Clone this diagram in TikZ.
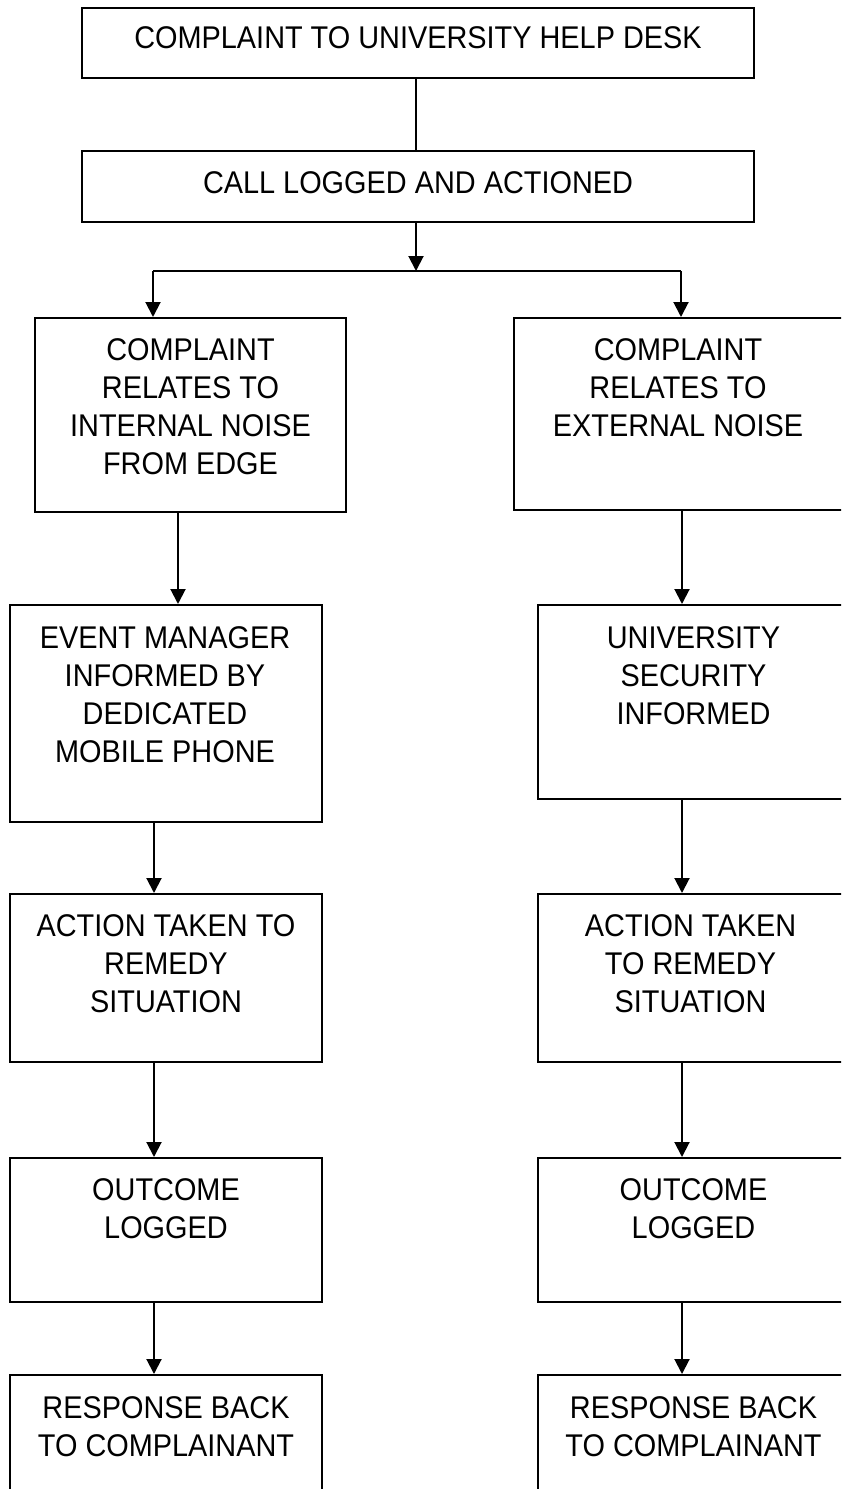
\documentclass[tikz,border=0pt]{standalone}
\usepackage{fontspec}
\setmainfont[FakeStretch=0.92]{Liberation Sans}
\usetikzlibrary{arrows.meta,positioning}
\begin{document}
\begin{tikzpicture}[x=1bp,y=-1bp,
  box/.style={draw=black,line width=2bp,rectangle,inner sep=0pt},
  txt/.style={inner sep=0pt,align=center,font=\fontsize{31.5}{38.2}\selectfont},
  link/.style={draw=black,line width=2bp},
  arr/.style={link,-{Triangle[length=15bp,width=15bp]}}]
\useasboundingbox (0,0) rectangle (841,1489);
\clip (0,0) rectangle (841,1489);
\fill[white] (0,0) rectangle (841,1489);
% boxes
\node[box,minimum width=672bp,minimum height=70bp] (T1) at (418,43) {};
\node[box,minimum width=672bp,minimum height=71bp] (T2) at (418,186.5) {};
\node[box,minimum width=311bp,minimum height=194bp] (L1) at (190.5,415) {};
\node[box,minimum width=334bp,minimum height=192bp] (R1) at (681,414) {};
\node[box,minimum width=312bp,minimum height=217bp] (L2) at (166,713.5) {};
\node[box,minimum width=311bp,minimum height=194bp] (R2) at (693.5,702) {};
\node[box,minimum width=312bp,minimum height=168bp] (L3) at (166,978) {};
\node[box,minimum width=311bp,minimum height=168bp] (R3) at (693.5,978) {};
\node[box,minimum width=312bp,minimum height=144bp] (L4) at (166,1230) {};
\node[box,minimum width=311bp,minimum height=144bp] (R4) at (693.5,1230) {};
\node[box,minimum width=312bp,minimum height=200bp] (L5) at (166,1475) {};
\node[box,minimum width=311bp,minimum height=200bp] (R5) at (693.5,1475) {};
% texts
\node[txt,below=19bp of T1.north] (T1t) {COMPLAINT TO UNIVERSITY HELP DESK};
\node[txt,below=21bp of T2.north] (T2t) {CALL LOGGED AND ACTIONED};
\node[txt,below=21bp of L1.north] (L1t) {COMPLAINT\\RELATES TO\\INTERNAL NOISE\\FROM EDGE};
\node[txt,below=21bp of R1.north,xshift=-3bp] (R1t) {COMPLAINT\\RELATES TO\\EXTERNAL NOISE};
\node[txt,below=22bp of L2.north,xshift=-1bp] (L2t) {EVENT MANAGER\\INFORMED BY\\DEDICATED\\MOBILE PHONE};
\node[txt,below=22bp of R2.north] (R2t) {UNIVERSITY\\SECURITY\\INFORMED};
\node[txt,below=21bp of L3.north] (L3t) {ACTION TAKEN TO\\REMEDY\\SITUATION};
\node[txt,below=21bp of R3.north,xshift=-3bp] (R3t) {ACTION TAKEN\\TO REMEDY\\SITUATION};
\node[txt,below=21bp of L4.north] (L4t) {OUTCOME\\LOGGED};
\node[txt,below=21bp of R4.north] (R4t) {OUTCOME\\LOGGED};
\node[txt,below=22bp of L5.north] (L5t) {RESPONSE BACK\\TO COMPLAINANT};
\node[txt,below=22bp of R5.north] (R5t) {RESPONSE BACK\\TO COMPLAINANT};
% column coordinates
\coordinate (J) at (416,271);
\coordinate (xa) at (153,0);
\coordinate (xb) at (681,0);
\coordinate (xc) at (178,0);
\coordinate (xd) at (682,0);
\coordinate (xe) at (154,0);
% connectors
\draw[link] (T1.south -| J) -- (T2.north -| J);
\draw[arr] (T2.south -| J) -- (J);
\draw[link] (J -| xa) -- (J -| xb);
\draw[arr] (J -| xa) -- (L1.north -| xa);
\draw[arr] (J -| xb) -- (R1.north -| xb);
\draw[arr] (L1.south -| xc) -- (L2.north -| xc);
\draw[arr] (R1.south -| xd) -- (R2.north -| xd);
\draw[arr] (L2.south -| xe) -- (L3.north -| xe);
\draw[arr] (R2.south -| xd) -- (R3.north -| xd);
\draw[arr] (L3.south -| xe) -- (L4.north -| xe);
\draw[arr] (R3.south -| xd) -- (R4.north -| xd);
\draw[arr] (L4.south -| xe) -- (L5.north -| xe);
\draw[arr] (R4.south -| xd) -- (R5.north -| xd);
\end{tikzpicture}
\end{document}
